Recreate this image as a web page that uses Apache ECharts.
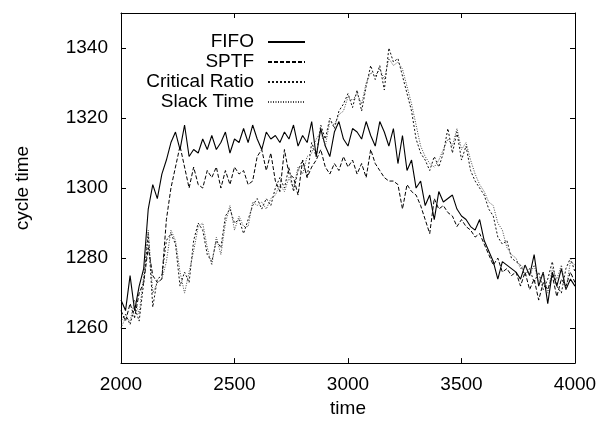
<!DOCTYPE html>
<html>
<head>
<meta charset="utf-8">
<script src="https://cdn.jsdelivr.net/npm/echarts@6/dist/echarts.min.js"></script>
<style>
  html, body { margin: 0; padding: 0; background: #fff; }
  #chart { width: 600px; height: 423px; }
</style>
</head>
<body>
<div id="chart"></div>
<script>
// Simulation time (sampling points)
const times = [
  2000, 2020, 2040, 2060, 2080, 2100, 2120, 2140, 2160, 2180,
  2200, 2220, 2240, 2260, 2280, 2300, 2320, 2340, 2360, 2380,
  2400, 2420, 2440, 2460, 2480, 2500, 2520, 2540, 2560, 2580,
  2600, 2620, 2640, 2660, 2680, 2700, 2720, 2740, 2760, 2780,
  2800, 2820, 2840, 2860, 2880, 2900, 2920, 2940, 2960, 2980,
  3000, 3020, 3040, 3060, 3080, 3100, 3120, 3140, 3160, 3180,
  3200, 3220, 3240, 3260, 3280, 3300, 3320, 3340, 3360, 3380,
  3400, 3420, 3440, 3460, 3480, 3500, 3520, 3540, 3560, 3580,
  3600, 3620, 3640, 3660, 3680, 3700, 3720, 3740, 3760, 3780,
  3800, 3820, 3840, 3860, 3880, 3900, 3920, 3940, 3960, 3980,
  4000
];

// Cycle time per dispatching rule
const fifo = [
  1268, 1265, 1275, 1265, 1272, 1277, 1294, 1301, 1297, 1304,
  1308, 1313, 1316, 1311, 1318, 1309, 1311, 1310, 1314, 1311,
  1315, 1311, 1313, 1316, 1310, 1314, 1313, 1317, 1313, 1318,
  1314, 1311, 1316, 1314, 1315, 1313, 1316, 1314, 1318, 1312,
  1315, 1313, 1319, 1309, 1317, 1312, 1309, 1316, 1319, 1314,
  1312, 1317, 1316, 1314, 1319, 1315, 1312, 1319, 1316, 1312,
  1317, 1307, 1315, 1305, 1308, 1300, 1302, 1295, 1298, 1291,
  1299, 1296, 1297, 1298, 1294, 1292, 1291, 1289, 1288, 1291,
  1285, 1282, 1279, 1274, 1279, 1278, 1277, 1276, 1274, 1278,
  1275, 1281, 1272, 1276, 1267, 1276, 1272, 1277, 1271, 1274,
  1272
];

const sptf = [
  1265, 1262, 1267, 1263, 1270, 1273, 1283, 1275, 1273, 1274,
  1291, 1300, 1306, 1312, 1306, 1300, 1306, 1301, 1300, 1305,
  1303, 1306, 1300, 1305, 1301, 1306, 1304, 1305, 1301, 1302,
  1309, 1311, 1305, 1310, 1302, 1299, 1311, 1304, 1303, 1298,
  1308, 1303, 1306, 1308, 1311, 1306, 1304, 1307, 1305, 1309,
  1306, 1308, 1304, 1307, 1303, 1311, 1307, 1305, 1303, 1302,
  1302, 1301, 1294, 1301, 1299, 1298, 1295, 1291, 1287, 1297,
  1294, 1295, 1293, 1292, 1289, 1291, 1289, 1288, 1286, 1287,
  1284, 1281, 1278, 1280, 1276, 1277, 1275, 1276, 1272, 1276,
  1271, 1274, 1268, 1273, 1271, 1275, 1269, 1274, 1272, 1276,
  1273
];

const criticalRatio = [
  1262, 1264, 1261, 1266, 1262, 1273, 1287, 1266, 1274, 1275,
  1285, 1287, 1284, 1272, 1276, 1273, 1285, 1290, 1288, 1281,
  1279, 1285, 1283, 1292, 1294, 1290, 1291, 1287, 1291, 1295,
  1297, 1294, 1297, 1295, 1300, 1303, 1300, 1306, 1299, 1305,
  1308, 1303, 1313, 1309, 1318, 1314, 1320, 1317, 1322, 1324,
  1327, 1323, 1328, 1322, 1329, 1335, 1331, 1335, 1328, 1340,
  1336, 1337, 1332, 1327, 1322, 1314, 1310, 1308, 1305, 1309,
  1306, 1310, 1317, 1310, 1316, 1308, 1312, 1305, 1302, 1300,
  1298, 1294, 1292, 1286, 1284, 1285, 1280, 1279, 1278, 1275,
  1277, 1273, 1276, 1271, 1274, 1279, 1272, 1270, 1277, 1280,
  1276
];

const slackTime = [
  1260, 1263, 1262, 1268, 1264, 1275, 1288, 1270, 1273, 1274,
  1279, 1288, 1285, 1276, 1270, 1276, 1282, 1289, 1290, 1283,
  1278, 1286, 1281, 1290, 1295, 1288, 1292, 1289, 1289, 1296,
  1295, 1296, 1294, 1297, 1298, 1301, 1299, 1303, 1300, 1306,
  1304, 1309, 1310, 1314, 1316, 1312, 1319, 1318, 1321, 1322,
  1326, 1325, 1327, 1324, 1330, 1333, 1332, 1334, 1331, 1337,
  1335, 1336, 1334, 1329, 1324, 1318, 1312, 1309, 1307, 1306,
  1308, 1311, 1314, 1312, 1317, 1311, 1313, 1308, 1304, 1301,
  1299, 1296, 1295, 1290, 1288, 1283, 1281, 1280, 1277, 1278,
  1275, 1278, 1273, 1276, 1270, 1277, 1274, 1278, 1271, 1279,
  1278
];

const seriesNames = ['FIFO', 'SPTF', 'Critical Ratio', 'Slack Time'];
const yTicks = [1260, 1280, 1300, 1320, 1340];

const FONT = '"Liberation Sans", Arial, Helvetica, sans-serif';
const pairs = (vals) => times.map((t, i) => [t, vals[i]]);
const plain = (v) => String(v);

const lineKinds = [
  { data: fifo,          type: 'solid',  width: 1.1, color: '#000' },
  { data: sptf,          type: [4, 2],   width: 1,   color: '#000' },
  { data: criticalRatio, type: [2, 2],   width: 1,   color: '#111' },
  { data: slackTime,     type: [1, 1.5], width: 1,   color: '#444' }
];

const axisLine = { show: true, lineStyle: { color: '#000', width: 1 } };
const tick = { show: true, inside: true, length: 5, lineStyle: { color: '#000', width: 1 } };
const labelText = { color: '#000', fontSize: 19, fontFamily: FONT };

const chart = echarts.init(document.getElementById('chart'), null, { renderer: 'canvas' });

chart.setOption({
  animation: false,
  backgroundColor: '#fff',
  grid: { left: 121, right: 25, top: 13, bottom: 48, containLabel: false },
  legend: {
    orient: 'vertical',
    align: 'right',
    right: 294,
    top: 32,
    padding: 0,
    itemGap: 0,
    itemWidth: 37,
    itemHeight: 1,
    itemStyle: { opacity: 0 },
    textStyle: Object.assign({ lineHeight: 20, padding: [0, 9, 0, 0] }, labelText),
    data: seriesNames
  },
  xAxis: [
    {
      type: 'value', min: 2000, max: 4000, interval: 500, position: 'bottom',
      axisLine: axisLine, axisTick: tick,
      axisLabel: Object.assign({ margin: 12, formatter: plain }, labelText),
      splitLine: { show: false },
      name: 'time', nameLocation: 'middle', nameGap: 26,
      nameTextStyle: labelText
    },
    {
      type: 'value', min: 2000, max: 4000, interval: 500, position: 'top',
      axisLine: axisLine, axisTick: tick,
      axisLabel: { show: false }, splitLine: { show: false }
    }
  ],
  yAxis: [
    {
      type: 'value', min: 1250, max: 1350, position: 'left',
      axisLine: axisLine,
      axisTick: Object.assign({ customValues: yTicks }, tick),
      axisLabel: Object.assign({ margin: 13, customValues: yTicks, formatter: plain }, labelText),
      splitLine: { show: false },
      name: 'cycle time', nameLocation: 'middle', nameGap: 89, nameRotate: 90,
      nameTextStyle: labelText
    },
    {
      type: 'value', min: 1250, max: 1350, position: 'right',
      axisLine: axisLine,
      axisTick: Object.assign({ customValues: yTicks }, tick),
      axisLabel: { show: false }, splitLine: { show: false }
    }
  ],
  series: lineKinds.map((k, i) => ({
    name: seriesNames[i],
    type: 'line',
    xAxisIndex: 0,
    yAxisIndex: 0,
    data: pairs(k.data),
    symbol: 'none',
    showSymbol: false,
    smooth: false,
    color: k.color,
    itemStyle: { color: k.color },
    lineStyle: { color: k.color, width: k.width, type: k.type }
  }))
});
</script>
</body>
</html>
